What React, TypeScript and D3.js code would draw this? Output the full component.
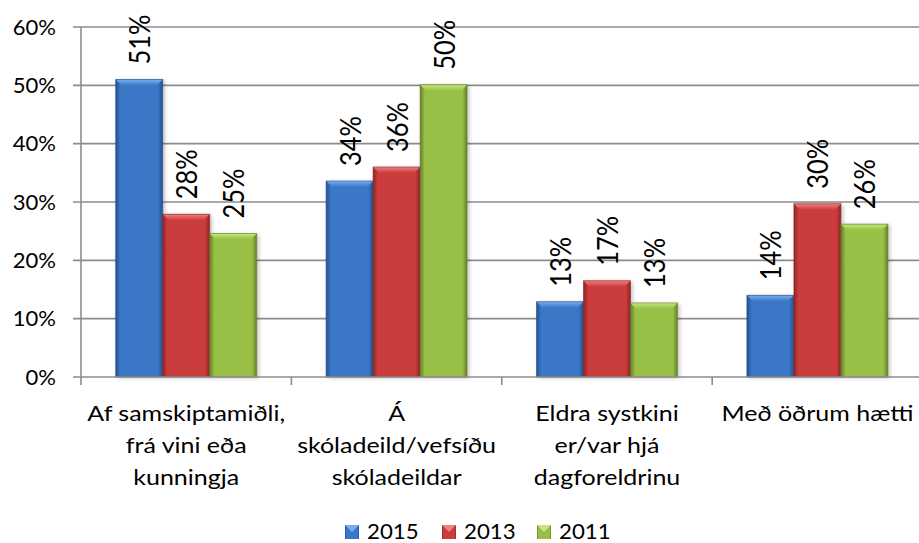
import React from "react";
import * as d3 from "d3";

const categories: string[][] = [
  ["Af samskiptamiðli,", "frá vini eða", "kunningja"],
  ["Á", "skóladeild/vefsíðu", "skóladeildar"],
  ["Eldra systkini", "er/var hjá", "dagforeldrinu"],
  ["Með öðrum hætti"],
];
const seriesNames = ["2015", "2013", "2011"];
const v2015 = [0.51, 0.336, 0.129, 0.14];
const v2013 = [0.279, 0.36, 0.165, 0.297];
const v2011 = [0.246, 0.501, 0.127, 0.262];
const yTicks = [0, 0.1, 0.2, 0.3, 0.4, 0.5, 0.6];

const palette = [
  { base: "#3a77c7", light: "#7aaef0", dark: "#244f8c" },
  { base: "#cb3c3c", light: "#ef8080", dark: "#8e2525" },
  { base: "#98c046", light: "#c6e680", dark: "#657f28" },
];

const W = 919;
const H = 543;
const FONT = "Lato, 'Open Sans', sans-serif";

export default function App() {
  const values = [v2015, v2013, v2011];
  const y = d3.scaleLinear().domain([0, 0.6]).range([377, 27]);
  const x0 = d3
    .scaleBand<number>()
    .domain(categories.map((_, i) => i))
    .range([81, 81 + 4 * 210.4])
    .padding(0);
  const step = x0.step();
  const groupW = 141;
  const x1 = d3
    .scaleBand<number>()
    .domain([0, 1, 2])
    .range([(step - groupW) / 2, (step + groupW) / 2])
    .padding(0);
  const fmt = d3.format(".0%");

  return (
    <svg width={W} height={H} style={{ position: "absolute", left: 0, top: 0, background: "#fff" }}>
      <defs>
        {palette.map((p, i) => (
          <React.Fragment key={i}>
            <linearGradient id={`body${i}`} x1="0" x2="1" y1="0" y2="0">
              <stop offset="0" stopColor={p.dark} />
              <stop offset="0.1" stopColor={p.base} />
              <stop offset="0.9" stopColor={p.base} />
              <stop offset="1" stopColor={p.dark} />
            </linearGradient>
            <linearGradient id={`top${i}`} x1="0" x2="0" y1="0" y2="1">
              <stop offset="0" stopColor={p.light} />
              <stop offset="1" stopColor={p.base} />
            </linearGradient>
          </React.Fragment>
        ))}
        <filter id="shadow" x="-20%" y="-5%" width="150%" height="115%">
          <feGaussianBlur in="SourceAlpha" stdDeviation="2" />
          <feOffset dx="2" dy="1" result="b" />
          <feComponentTransfer>
            <feFuncA type="linear" slope="0.25" />
          </feComponentTransfer>
          <feMerge>
            <feMergeNode />
            <feMergeNode in="SourceGraphic" />
          </feMerge>
        </filter>
      </defs>

      {/* gridlines */}
      {yTicks.slice(1).map((t) => (
        <line key={t} x1={73} x2={W} y1={y(t)} y2={y(t)} stroke="#8c8c8c" strokeWidth={1.6} />
      ))}

      {/* y axis labels */}
      {yTicks.map((t) => (
        <g key={t} transform={`translate(56,${y(t)}) scale(1.05,1)`}>
          <text
            x={0}
            y={0}
            textAnchor="end"
            dominantBaseline="central"
            fontFamily={FONT}
            fontSize={21}
            fill="#000"
          >
            {fmt(t)}
          </text>
        </g>
      ))}

      {/* bars */}
      {categories.map((_, ci) => (
        <g key={ci} transform={`translate(${x0(ci)},0)`}>
          {values.map((vals, si) => {
            const bx = x1(si)!;
            const bw = x1.bandwidth();
            const by = y(vals[ci]);
            const bh = y(0) - by;
            const bev = 6;
            return (
              <g key={si}>
                <rect x={bx} y={by} width={bw} height={bh} fill={`url(#body${si})`} filter="url(#shadow)" />
                <polygon
                  points={`${bx},${by} ${bx + bw},${by} ${bx + bw - bev},${by + bev} ${bx + bev},${by + bev}`}
                  fill={`url(#top${si})`}
                />
                <rect x={bx} y={by} width={bw} height={bh} fill="none" stroke={palette[si].dark} strokeOpacity={0.6} strokeWidth={1} />
                <text
                  transform={`translate(${bx + bw / 2},${by - 15}) scale(1.12,1) rotate(-90)`}
                  textAnchor="start"
                  dominantBaseline="central"
                  fontFamily={FONT}
                  fontSize={25.5}
                  fill="#000"
                >
                  {fmt(vals[ci])}
                </text>
              </g>
            );
          })}
        </g>
      ))}

      {/* axes */}
      <line x1={81} x2={81} y1={27} y2={385} stroke="#8c8c8c" strokeWidth={1.6} />
      <line x1={73} x2={W} y1={377} y2={377} stroke="#8c8c8c" strokeWidth={1.6} />
      {categories.map((_, ci) => (
        <line key={ci} x1={x0(ci)! + step} x2={x0(ci)! + step} y1={377} y2={385} stroke="#8c8c8c" strokeWidth={1.6} />
      ))}

      {/* category labels */}
      {categories.map((lines, ci) => (
        <g key={ci} transform={`translate(${x0(ci)! + step / 2},0) scale(1.19,1)`}>
          <text textAnchor="middle" fontFamily={FONT} fontSize={21} fill="#000">
            {lines.map((ln, li) => (
              <tspan key={li} x={0} y={413 + li * 32} dominantBaseline="central">
                {ln}
              </tspan>
            ))}
          </text>
        </g>
      ))}

      {/* legend */}
      {seriesNames.map((name, si) => {
        const lx = [345, 442, 537][si];
        return (
          <g key={name}>
            <rect x={lx} y={525} width={14} height={14} fill={`url(#body${si})`} />
            <polygon points={`${lx},525 ${lx + 14},525 ${lx + 7},532`} fill={palette[si].light} />
            <g transform={`translate(${lx + 22},531) scale(1.06,1)`}>
              <text x={0} y={0} dominantBaseline="central" fontFamily={FONT} fontSize={21} fill="#000">
                {name}
              </text>
            </g>
          </g>
        );
      })}
    </svg>
  );
}
